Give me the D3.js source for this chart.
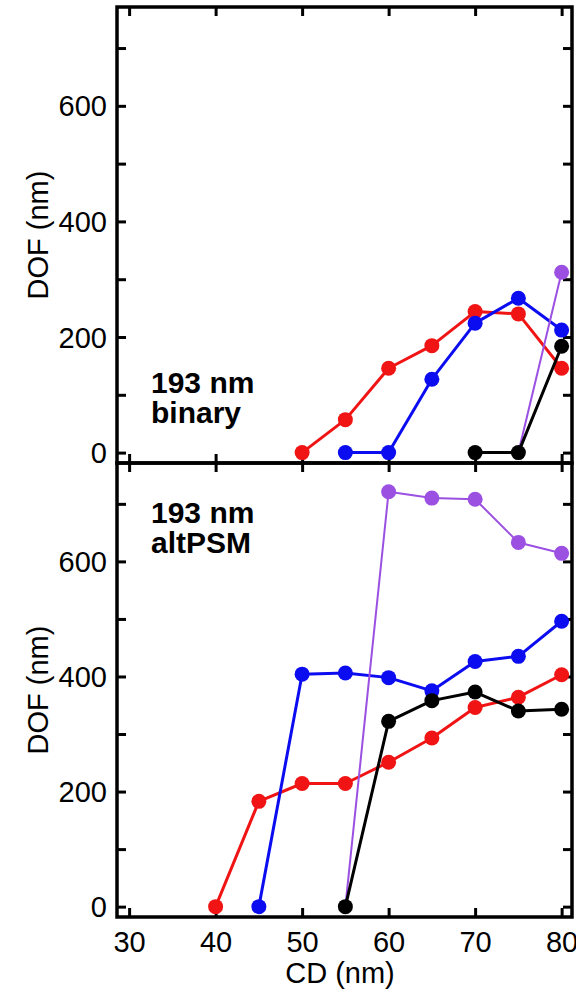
<!DOCTYPE html>
<html>
<head>
<meta charset="utf-8">
<script src="https://cdn.jsdelivr.net/npm/d3@7"></script>
<style>
  html, body { margin: 0; padding: 0; background: #fff; }
  svg { display: block; }
  text { font-family: "Liberation Sans", Arial, Helvetica, sans-serif; fill: #000; }
</style>
</head>
<body>
<svg id="chart" width="576" height="993"></svg>
<script>
// ---- data ----
const cd = [40, 45, 50, 55, 60, 65, 70, 75, 80];
const xTicks = [30, 40, 50, 60, 70, 80];
const yTicks = [0, 100, 200, 300, 400, 500, 600, 700];
const yLabels = [0, 200, 400, 600];

// Top panel: 193 nm binary (null = no point)
const binaryRed    = [null, null, 0, 57, 146, 185, 244, 240, 146];
const binaryBlue   = [null, null, null, 0, 0, 127, 224, 267, 212];
const binaryPurple = [null, null, null, null, null, null, null, 0, 312];
const binaryBlack  = [null, null, null, null, null, null, 0, 0, 184];

// Bottom panel: 193 nm altPSM
const altRed    = [0, 183, 214, 214, 251, 293, 346, 364, 403];
const altBlue   = [null, 0, 404, 406, 398, 375, 426, 435, 496];
const altPurple = [null, null, null, 0, 721, 710, 708, 633, 614];
const altBlack  = [null, null, null, 0, 322, 358, 373, 340, 343];

const colors = { red: "#f01414", blue: "#0c0cf0", purple: "#9b50e2", black: "#000000" };

// ---- layout ----
const svg = d3.select("#chart");
const left = 117, right = 572;
const x = d3.scaleLinear().domain([28.6, 81.2]).range([left, right]);

const panels = [
  { top: 7, bottom: 463, label: ["193 nm", "binary"], labelY: 393,
    series: [
      { v: binaryRed, c: colors.red, w: 3, marker: true },
      { v: binaryBlue, c: colors.blue, w: 3, marker: true },
      { v: binaryPurple, c: colors.purple, w: 2, marker: [false, true] },
      { v: binaryBlack, c: colors.black, w: 3, marker: true }
    ], xLabels: false },
  { top: 463, bottom: 917, label: ["193 nm", "altPSM"], labelY: 523,
    series: [
      { v: altRed, c: colors.red, w: 3, marker: true },
      { v: altBlue, c: colors.blue, w: 3, marker: true },
      { v: altPurple, c: colors.purple, w: 2, marker: "skipFirst" },
      { v: altBlack, c: colors.black, w: 3, marker: true }
    ], xLabels: true }
];

panels.forEach((p, pi) => {
  const y = d3.scaleLinear().domain([-18, 771]).range([p.bottom, p.top]);
  const g = svg.append("g");

  // axes (ticks inward)
  const styleAxis = sel => {
    sel.select(".domain").remove();
    sel.selectAll(".tick line").attr("stroke", "#000").attr("stroke-width", 3);
    sel.selectAll(".tick text").style("font-size", "29px").attr("fill", "#000")
      .style("font-family", '"Liberation Sans", Arial, sans-serif');
  };
  g.append("g").attr("transform", `translate(${left},0)`)
    .call(d3.axisLeft(y).tickValues(yTicks).tickSize(-9).tickPadding(10)
      .tickFormat(d => yLabels.includes(d) ? d : ""))
    .call(styleAxis)
    .call(s => s.selectAll(".tick text").attr("dy", "0.35em"));
  g.append("g").attr("transform", `translate(${right},0)`)
    .call(d3.axisRight(y).tickValues(yTicks).tickSize(-9).tickFormat(""))
    .call(styleAxis);
  g.append("g").attr("transform", `translate(0,${p.top})`)
    .call(d3.axisTop(x).tickValues(xTicks).tickSize(-9).tickFormat(""))
    .call(styleAxis);
  g.append("g").attr("transform", `translate(0,${p.bottom})`)
    .call(d3.axisBottom(x).tickValues(xTicks).tickSize(-9).tickPadding(14)
      .tickFormat(p.xLabels ? d3.format("d") : ""))
    .call(styleAxis);

  // series
  const line = d3.line().defined(d => d[1] !== null).x(d => x(d[0])).y(d => y(d[1]));
  p.series.forEach(s => {
    const pts = cd.map((c, i) => [c, s.v[i]]);
    g.append("path").datum(pts)
      .attr("fill", "none").attr("stroke", s.c).attr("stroke-width", s.w)
      .attr("stroke-linejoin", "round")
      .attr("d", line);
    let valid = pts.filter(d => d[1] !== null);
    if (s.marker === "skipFirst" || Array.isArray(s.marker)) valid = valid.slice(1);
    g.selectAll(null).data(valid).enter().append("circle")
      .attr("cx", d => x(d[0])).attr("cy", d => y(d[1])).attr("r", 7.5)
      .attr("fill", s.c);
  });

  // frame
  g.append("rect").attr("x", left).attr("y", p.top)
    .attr("width", right - left).attr("height", p.bottom - p.top)
    .attr("fill", "none").attr("stroke", "#000").attr("stroke-width", 3.5);

  // annotation
  p.label.forEach((t, i) => {
    g.append("text").attr("x", 151).attr("y", p.labelY + i * 30)
      .style("font-size", "30px").style("font-weight", "bold").text(t);
  });

  // y title
  g.append("text")
    .attr("transform", `translate(48,${(p.top + p.bottom) / 2}) rotate(-90)`)
    .attr("text-anchor", "middle").style("font-size", "29px").text("DOF (nm)");
});

// x title
svg.append("text").attr("x", 340).attr("y", 983).attr("text-anchor", "middle")
  .style("font-size", "29px").text("CD (nm)");
</script>
</body>
</html>
